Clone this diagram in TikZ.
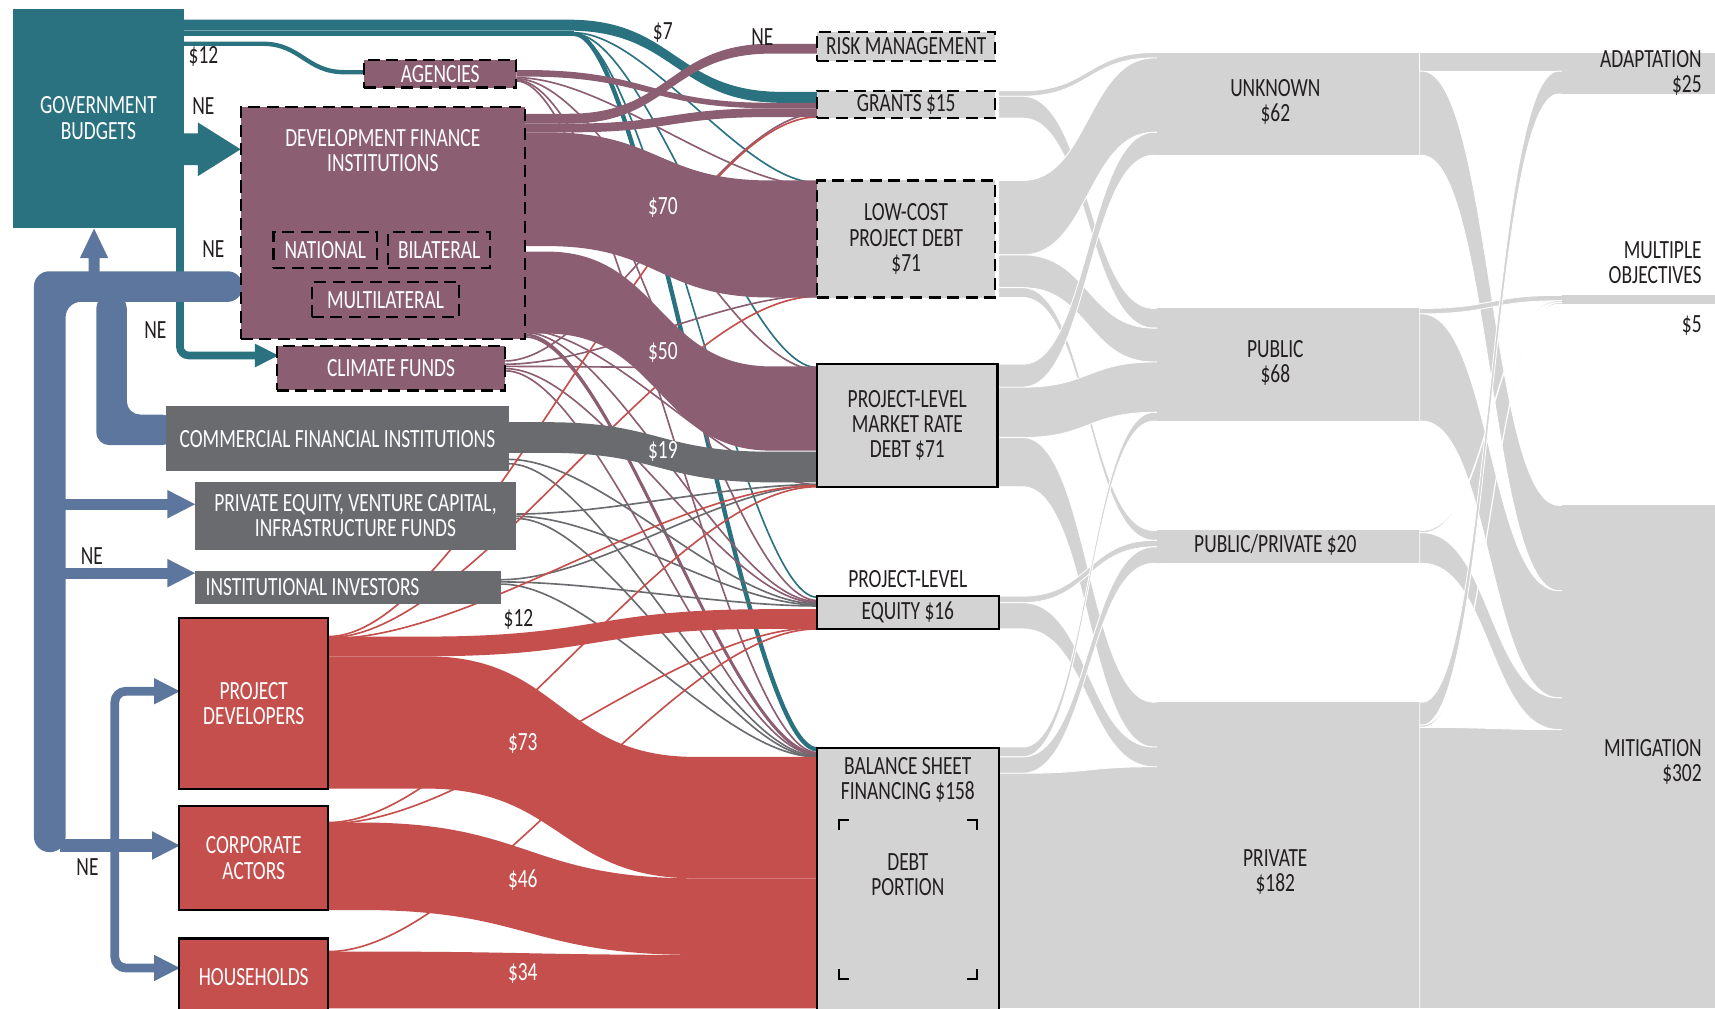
\documentclass[tikz,border=0pt]{standalone}
\usepackage{fontspec}
\setmainfont{Carlito}[FakeStretch=0.74]
\usetikzlibrary{arrows.meta, positioning}
\definecolor{govTeal}{RGB}{43,114,129}
\definecolor{dfiMauve}{RGB}{139,94,113}
\definecolor{cfiGrey}{RGB}{106,107,111}
\definecolor{flowBlue}{RGB}{92,118,158}
\definecolor{devRed}{RGB}{196,79,76}
\definecolor{sinkGray}{RGB}{211,211,211}
\definecolor{inkDark}{RGB}{35,31,32}

% band: x0 x1 ya yb x2 x3 yc yd style
\newcommand{\bandx}[9]{%
  \fill[#9] (#1,#3) -- (#2,#3) .. controls ({(#2+#5)/2},#3) and ({(#2+#5)/2},#7) .. (#5,#7) -- (#6,#7)
    -- (#6,#8) -- (#5,#8) .. controls ({(#2+#5)/2},#8) and ({(#2+#5)/2},#4) .. (#2,#4) -- (#1,#4) -- cycle;}
% thin flow line: x1 y1 x2 y2 style
\newcommand{\wire}[5]{%
  \draw[#5] (#1,#2) .. controls ({#1+0.3*(#3-#1)},#2) and ({#3-0.3*(#3-#1)},#4) .. (#3,#4);}

\begin{document}
\begin{tikzpicture}[x=1pt, y=-1pt, font=\fontsize{24}{23}\selectfont,
    srcbox/.style={inner sep=0pt, align=center, text=white},
    dashbox/.style={draw=black, line width=2pt, dash pattern=on 11pt off 6pt},
    sinkbox/.style={fill=sinkGray, draw=black, line width=2pt, inner sep=0pt, align=center, text=inkDark},
    tag/.style={text=inkDark, inner sep=0pt, align=center},
    valtag/.style={text=white, inner sep=0pt},
    grayband/.style={fill=sinkGray, draw=white, line width=0.8pt},
    wirelw/.style={line width=1.5pt},
    bluetip/.style={-{Triangle[length=26pt, width=24pt]}}]
\useasboundingbox (0,0) rectangle (1568,922);

% right side flows
\bandx{913}{935}{83}{88}{1055}{1062}{48}{53}{grayband}
\bandx{913}{935}{88}{108}{1055}{1062}{282}{300}{grayband}
\bandx{913}{935}{165}{233}{1055}{1062}{53}{121}{grayband}
\bandx{913}{935}{233}{263}{1055}{1062}{300}{331}{grayband}
\bandx{913}{935}{263}{272}{1055}{1062}{485}{494}{grayband}
\bandx{913}{935}{333}{354}{1055}{1062}{121}{142}{grayband}
\bandx{913}{935}{354}{400}{1055}{1062}{331}{377}{grayband}
\bandx{913}{935}{400}{445}{1055}{1062}{642}{683}{grayband}
\bandx{913}{935}{545}{551}{1055}{1062}{494}{500}{grayband}
\bandx{913}{935}{551}{575}{1055}{1062}{683}{701}{grayband}
\bandx{913}{935}{683}{692}{1055}{1062}{377}{385}{grayband}
\bandx{913}{935}{692}{707}{1055}{1062}{500}{515}{grayband}
\bandx{913}{935}{707}{922}{1055}{1062}{701}{922}{grayband}
\fill[sinkGray] (1058,48) rectangle (1302,142);
\fill[sinkGray] (1058,282) rectangle (1302,385);
\fill[sinkGray] (1058,485) rectangle (1302,515);
\fill[sinkGray] (1058,642) rectangle (1302,922);
\bandx{1298}{1300}{48}{65}{1425}{1430}{48}{65}{grayband}
\bandx{1298}{1300}{65}{142}{1425}{1430}{462}{540}{grayband}
\bandx{1298}{1300}{282}{287}{1425}{1430}{270}{275}{grayband}
\bandx{1298}{1300}{287}{385}{1425}{1430}{540}{638}{grayband}
\bandx{1298}{1300}{485}{487}{1425}{1430}{275}{276.5}{grayband}
\bandx{1298}{1300}{487}{515}{1425}{1430}{638}{667}{grayband}
\bandx{1298}{1300}{642}{663}{1425}{1430}{65}{86}{grayband}
\bandx{1298}{1300}{663}{665}{1425}{1430}{276.5}{278}{grayband}
\bandx{1298}{1300}{665}{922}{1425}{1430}{667}{922}{grayband}
\fill[sinkGray] (1428,48) rectangle (1568,86);
\fill[sinkGray] (1428,270) rectangle (1568,278);
\fill[sinkGray] (1428,462) rectangle (1568,922);

% thin lines
\fill[govTeal] (168,28) rectangle (525,33);
\wire{525}{30}{747}{167}{govTeal, wirelw}
\wire{525}{31}{747}{336}{govTeal, wirelw}
\wire{525}{32}{747}{546}{govTeal, wirelw}
\wire{525}{31}{747}{685}{govTeal, line width=4pt}
\wire{472}{71}{747}{170}{dfiMauve, wirelw}
\wire{472}{72}{747}{338}{dfiMauve, wirelw}
\wire{472}{73}{747}{549}{dfiMauve, wirelw}
\wire{472}{74}{747}{688}{dfiMauve, wirelw}
\wire{480}{302}{747}{443}{dfiMauve, wirelw}
\wire{480}{304}{747}{550}{dfiMauve, wirelw}
\wire{480}{306}{747}{689}{dfiMauve, line width=2.5pt}
\wire{480}{308}{747}{690}{dfiMauve, wirelw}
\wire{462}{330}{747}{104}{dfiMauve, wirelw}
\wire{462}{333}{747}{270}{dfiMauve, wirelw}
\wire{462}{335}{747}{337}{dfiMauve, wirelw}
\wire{462}{337}{747}{551}{dfiMauve, wirelw}
\wire{462}{339}{747}{690}{dfiMauve, wirelw}
\wire{465}{420}{747}{552}{cfiGrey, wirelw}
\wire{465}{424}{747}{691}{cfiGrey, wirelw}
\wire{472}{470}{747}{443}{cfiGrey, wirelw}
\wire{472}{472}{747}{553}{cfiGrey, wirelw}
\wire{472}{474}{747}{692}{cfiGrey, wirelw}
\wire{458}{530}{747}{444}{cfiGrey, wirelw}
\wire{458}{532}{747}{554}{cfiGrey, wirelw}
\wire{458}{534}{747}{692}{cfiGrey, wirelw}
\wire{300}{582}{747}{107}{devRed, wirelw}
\wire{300}{583}{747}{271}{devRed, wirelw}
\wire{300}{584}{747}{444}{devRed, wirelw}
\wire{300}{752}{747}{445}{devRed, wirelw}
\wire{300}{753}{747}{574}{devRed, wirelw}
\wire{300}{870}{747}{575}{devRed, wirelw}

% left side flows
\bandx{168}{520}{18}{28}{715}{747}{84}{94}{fill=govTeal}
\draw[govTeal, line width=4pt] (168,40) -- (240,40) .. controls (275,40) and (280,66) .. (315,66) -- (335,66);
\bandx{472}{480}{64}{70}{705}{747}{94}{99}{fill=dfiMauve}
\bandx{480}{520}{104}{113}{705}{747}{40}{49}{fill=dfiMauve}
\bandx{480}{520}{113}{121}{705}{747}{99}{107}{fill=dfiMauve}
\bandx{480}{500}{121}{225}{705}{747}{165}{272}{fill=dfiMauve}
\bandx{480}{500}{230}{305}{705}{747}{335}{412}{fill=dfiMauve}
\bandx{465}{500}{386}{414}{705}{747}{413}{441}{fill=cfiGrey}
\bandx{300}{390}{582}{600}{700}{747}{557}{575}{fill=devRed}
\bandx{300}{390}{600}{721}{635}{747}{692}{803}{fill=devRed}
\bandx{300}{330}{752}{832}{635}{747}{803}{873}{fill=devRed}
\bandx{300}{330}{870}{922}{635}{747}{873}{922}{fill=devRed}

% arrows into the sources
\fill[govTeal] (168,122) -- (181,122) -- (181,112) -- (220,136.5) -- (181,161) -- (181,151) -- (168,151) -- cycle;
\draw[govTeal, line width=7pt, rounded corners=8pt, -{Triangle[length=22pt, width=20pt]}] (164.5,200) -- (164.5,325) -- (255,325);
\fill[flowBlue, rounded corners=14pt] (222,248) -- (31,248) -- (31,779) -- (60,779) -- (60,276) -- (222,276) -- cycle;
\fill[flowBlue, rounded corners=12pt] (116,270) -- (88,270) -- (88,407) -- (160,407) -- (160,379) -- (116,379) -- cycle;
\fill[flowBlue] (81,250) -- (81,236) -- (73,236) -- (86,209) -- (99,236) -- (91,236) -- (91,250) -- cycle;
\draw[flowBlue, line width=10pt, bluetip] (55,461) -- (179,461);
\draw[flowBlue, line width=10pt, bluetip] (55,524) -- (179,524);
\draw[flowBlue, line width=12pt, bluetip] (55,773) -- (165,773);
\draw[flowBlue, line width=8pt, rounded corners=10pt, {Triangle[length=24pt, width=22pt]}-{Triangle[length=24pt, width=22pt]}] (165,632) -- (105,632) -- (105,885) -- (165,885);

% sources
\node[srcbox, fill=govTeal, minimum width=156pt, minimum height=200pt] (gov) at (90,108) {GOVERNMENT\\BUDGETS};
\node[srcbox, dashbox, fill=dfiMauve, minimum width=139pt, minimum height=25pt] (agencies) at (402.5,67.5) {AGENCIES};
\node[srcbox, dashbox, fill=dfiMauve, minimum width=260pt, minimum height=212pt] (dfi) at (350,204) {};
\node[srcbox] (dfititle) at (350,137.5) {DEVELOPMENT FINANCE\\INSTITUTIONS};
\node[srcbox, dashbox, minimum width=95pt, minimum height=33pt] (national) at (297.5,228.5) {NATIONAL};
\node[srcbox, dashbox, minimum width=93pt, minimum height=33pt] (bilateral) at (401.5,228.5) {BILATERAL};
\node[srcbox, dashbox, minimum width=135pt, minimum height=32pt] (multilateral) at (352.5,274) {MULTILATERAL};
\node[srcbox, dashbox, fill=dfiMauve, minimum width=209pt, minimum height=41pt] (climate) at (357.5,336.5) {CLIMATE FUNDS};
\node[srcbox, fill=cfiGrey, minimum width=313pt, minimum height=60pt] (commercial) at (308.5,401) {COMMERCIAL FINANCIAL INSTITUTIONS};
\node[srcbox, fill=cfiGrey, minimum width=294pt, minimum height=62pt] (privequity) at (325,471.5) {PRIVATE EQUITY, VENTURE CAPITAL,\\INFRASTRUCTURE FUNDS};
\node[srcbox, fill=cfiGrey, minimum width=280pt, minimum height=30pt] (institutional) at (318,537) {};
\node[srcbox, anchor=west] (insttext) at ([xshift=10pt]institutional.west) {INSTITUTIONAL INVESTORS};
\node[srcbox, fill=devRed, draw=black, line width=2pt, minimum width=136pt, minimum height=156pt] (developers) at (232,643) {PROJECT\\DEVELOPERS};
\node[srcbox, fill=devRed, draw=black, line width=2pt, minimum width=136pt, minimum height=95pt] (corporate) at (232,784.5) {CORPORATE\\ACTORS};
\node[srcbox, fill=devRed, draw=black, line width=2pt, minimum width=136pt, minimum height=70pt] (households) at (232,893) {HOUSEHOLDS};

% instruments
\node[sinkbox, dashbox, minimum width=163pt, minimum height=27pt] (riskmgmt) at (828.5,42.5) {RISK MANAGEMENT};
\node[sinkbox, dashbox, minimum width=163pt, minimum height=25pt] (grants) at (828.5,95.5) {GRANTS \$15};
\node[sinkbox, dashbox, minimum width=163pt, minimum height=107pt] (lowcost) at (828.5,218.5) {LOW-COST\\PROJECT DEBT\\\$71};
\node[sinkbox, minimum width=165pt, minimum height=112pt] (marketrate) at (829.5,389) {PROJECT-LEVEL\\MARKET RATE\\DEBT \$71};
\node[tag] (eqlabel) at (830,529) {PROJECT-LEVEL};
\node[sinkbox, minimum width=166pt, minimum height=30pt] (equity) at (830,560) {EQUITY \$16};
\node[sinkbox, anchor=north, minimum width=166pt, minimum height=260pt] (balance) at (830,683) {};
\node[tag] (bstitle) at (830,713) {BALANCE SHEET\\FINANCING \$158};
\node[tag] (debtpart) at (830,800) {DEBT\\PORTION};
\draw[line width=2pt] (767,759) -- (767,750) -- (776,750);
\draw[line width=2pt] (884,750) -- (893,750) -- (893,759);
\draw[line width=2pt] (767,886) -- (767,895) -- (776,895);
\draw[line width=2pt] (884,895) -- (893,895) -- (893,886);

% recipients and uses
\node[tag] (unknown) at (1166,93) {UNKNOWN\\\$62};
\node[tag] (public) at (1166,331.5) {PUBLIC\\\$68};
\node[tag] (pubpriv) at (1166,498) {PUBLIC/PRIVATE \$20};
\node[tag] (private) at (1166,797) {PRIVATE\\\$182};
\node[tag, anchor=east, align=right] (adaptation) at (1556,67) {ADAPTATION\\\$25};
\node[tag, anchor=east, align=right] (multiple) at (1556,240.5) {MULTIPLE\\OBJECTIVES};
\node[tag, anchor=east] (multval) at (1556,298) {\$5};
\node[tag, anchor=east, align=right] (mitigation) at (1556,697) {MITIGATION\\\$302};

% amounts on flows
\node[tag] (v7) at (606,30) {\$7};
\node[tag] (vne1) at (697,34) {NE};
\node[tag] (v12a) at (186,52) {\$12};
\node[tag] (vne2) at (186,97) {NE};
\node[tag] (vne3) at (195,228) {NE};
\node[tag] (vne4) at (142,302) {NE};
\node[tag] (vne5) at (84,508) {NE};
\node[tag] (vne6) at (80,793) {NE};
\node[valtag] (v70) at (606,190) {\$70};
\node[valtag] (v50) at (606,322) {\$50};
\node[valtag] (v19) at (606,413) {\$19};
\node[tag] (v12b) at (474,566) {\$12};
\node[valtag] (v73) at (478,680) {\$73};
\node[valtag] (v46) at (478,805) {\$46};
\node[valtag] (v34) at (478,890) {\$34};
\end{tikzpicture}
\end{document}
